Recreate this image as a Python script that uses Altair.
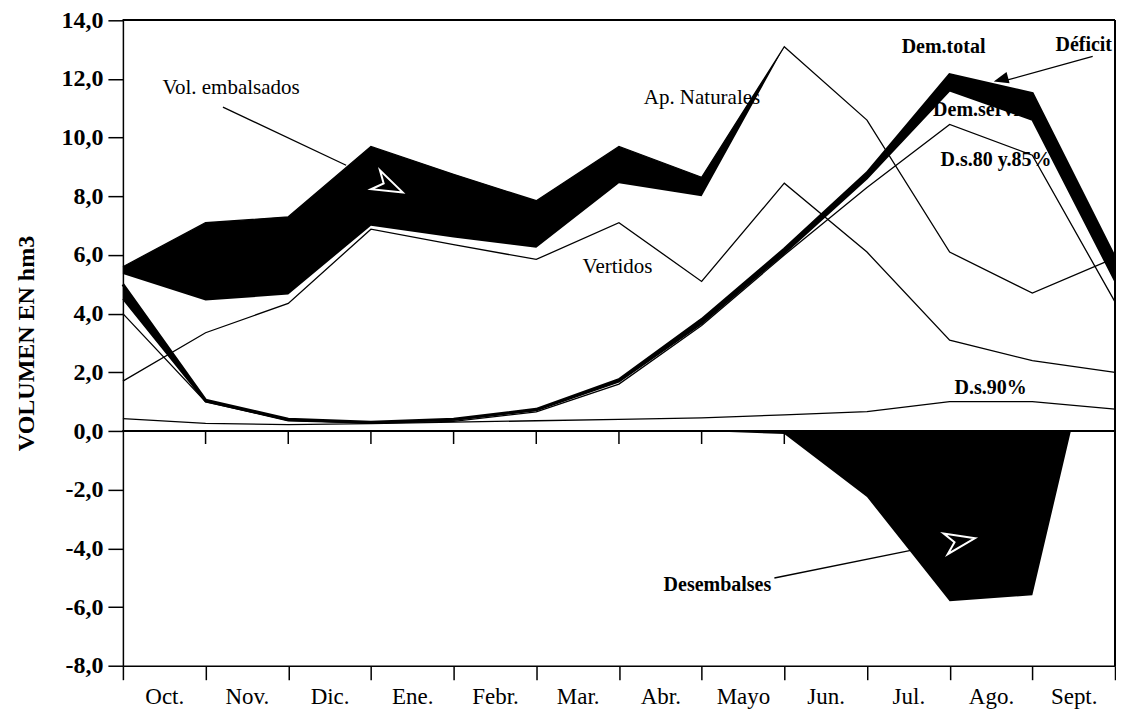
import altair as alt
import pandas as pd

# ---------------- data ----------------
months = ["Oct.", "Nov.", "Dic.", "Ene.", "Febr.", "Mar.", "Abr.", "Mayo",
          "Jun.", "Jul.", "Ago.", "Sept."]
# 13 points: month boundaries (start of Oct ... end of Sept)
punto = list(range(13))
ap_naturales = [5.6, 7.1, 7.3, 9.7, 8.75, 7.85, 9.7, 8.65, 13.1, 10.6, 6.1, 4.7, 5.9]
base_embalse = [5.35, 4.45, 4.65, 7.0, 6.6, 6.25, 8.45, 8.0, 13.1, None, None, None, None]
vertidos = [1.7, 3.35, 4.35, 6.88, 6.35, 5.85, 7.1, 5.1, 8.45, 6.1, 3.1, 2.4, 2.0]
dem_total = [5.0, 1.05, 0.4, 0.3, 0.4, 0.74, 1.75, 3.8, 6.2, 8.8, 12.15, 11.5, 5.9]
dem_servida = [4.5, 1.0, 0.37, 0.28, 0.38, 0.7, 1.68, 3.65, 6.05, 8.6, 11.6, 10.6, 5.1]
ds_80_85 = [4.0, 1.0, 0.35, 0.27, 0.33, 0.65, 1.6, 3.6, 6.0, 8.3, 10.45, 9.4, 4.4]
ds_90 = [0.42, 0.26, 0.22, 0.25, 0.3, 0.35, 0.4, 0.45, 0.55, 0.66, 1.0, 1.0, 0.75]
desembalses = [None, None, None, None, None, None, None, 0.0, -0.1, -2.25, -5.8, -5.6, 6.4]

# annotations
lab_text = ["Vol. embalsados", "Ap. Naturales", "Vertidos", "Dem.total", "Déficit",
            "D.s.80 y.85%", "D.s.90%", "Desembalses"]
lab_x = [0.48, 6.30, 5.56, 9.42, 11.28, 9.89, 10.06, 6.54]
lab_y = [11.68, 11.34, 5.59, 13.08, 13.15, 9.23, 1.46, -5.25]
lab_bold = [False, False, False, True, True, True, True, True]
servida_text = ["Dem.servida"]
servida_x = [9.80]
servida_y = [10.93]

leader_x1 = [1.21, 11.73, 7.88]
leader_y1 = [11.04, 12.77, -5.01]
leader_x2 = [2.70, 10.68, 9.56]
leader_y2 = [9.06, 11.95, -4.05]

white_arrow_x = [3.22, 10.13]
white_arrow_y = [8.35, -3.75]
white_arrow_angle = [25, 349]
black_arrow_x = [10.62]
black_arrow_y = [11.98]
black_arrow_angle = [165]

zero_ticks = list(range(1, 12))

# ---------------- tables ----------------
df = pd.DataFrame({
    "punto": punto, "ap_naturales": ap_naturales, "base_embalse": base_embalse,
    "vertidos": vertidos, "dem_total": dem_total, "dem_servida": dem_servida,
    "ds_80_85": ds_80_85, "ds_90": ds_90, "desembalses": desembalses,
})
labels = pd.DataFrame({"text": lab_text, "x": lab_x, "y": lab_y, "bold": lab_bold})
servida_lab = pd.DataFrame({"text": servida_text, "x": servida_x, "y": servida_y})
leaders = pd.DataFrame({"x1": leader_x1, "y1": leader_y1, "x2": leader_x2, "y2": leader_y2})
warrows = pd.DataFrame({"x": white_arrow_x, "y": white_arrow_y, "a": white_arrow_angle})
barrows = pd.DataFrame({"x": black_arrow_x, "y": black_arrow_y, "a": black_arrow_angle})
zticks = pd.DataFrame({"t": zero_ticks})

FONT = "Liberation Serif"
month_expr = " : ".join(f"datum.value == {i} ? '{m}'" for i, m in enumerate(months)) + " : ''"

x_scale = alt.Scale(domain=[0, 12], nice=False, zero=False)
y_scale = alt.Scale(domain=[-8, 14], nice=False, zero=False)

x_axis = alt.Axis(values=list(range(13)), labelExpr=month_expr, labelOffset=41.4,
                  labelFlush=False, labelOverlap=False, labelBound=False,
                  tickSize=14, tickWidth=1.5, tickColor="black",
                  domainColor="black", domainWidth=1.5,
                  labelFont=FONT, labelFontSize=23, labelColor="black",
                  labelBaseline="top", labelPadding=6, grid=False, title=None)
y_axis = alt.Axis(values=list(range(-8, 15, 2)),
                  labelExpr="replace(replace(format(datum.value, '.1f'), '.', ','), '\u2212', '-')",
                  tickSize=15, tickWidth=1.5, tickColor="black",
                  domainColor="black", domainWidth=1.5,
                  labelFont=FONT, labelFontSize=24, labelFontWeight="bold",
                  labelColor="black", labelPadding=5, grid=False,
                  title="VOLUMEN EN hm3", titleFont=FONT, titleFontSize=24,
                  titleFontWeight="bold", titleColor="black", titleAngle=270,
                  titleBaseline="bottom", titleAlign="center", titleX=-84, titleY=323)


def X(field):
    return alt.X(f"{field}:Q", scale=x_scale, axis=x_axis)


def Y(field):
    return alt.Y(f"{field}:Q", scale=y_scale, axis=y_axis)


base = alt.Chart(df)

band = base.transform_filter("isValid(datum.base_embalse)").mark_area(
    color="black", opacity=1).encode(x=X("punto"), y=Y("ap_naturales"), y2="base_embalse:Q")

des = base.transform_filter("isValid(datum.desembalses)").mark_area(
    color="black", opacity=1).encode(x=X("punto"), y=Y("desembalses"), y2=alt.Y2Datum(0))

cover = base.transform_filter("isValid(datum.desembalses)").transform_calculate(
    pos="max(datum.desembalses, 0)").mark_area(color="white", opacity=1).encode(
    x=X("punto"), y=Y("pos"), y2=alt.Y2Datum(0))

servida_txt = alt.Chart(servida_lab).mark_text(
    align="left", baseline="middle", font=FONT, fontSize=20, fontWeight="bold", color="black"
).encode(x=X("x"), y=Y("y"), text="text:N")

deficit = base.mark_area(color="black", opacity=1).encode(
    x=X("punto"), y=Y("dem_total"), y2="dem_servida:Q")


def line(field, width):
    return base.mark_line(color="black", strokeWidth=width).encode(x=X("punto"), y=Y(field))


lines = [line("ap_naturales", 1.3), line("vertidos", 1.3), line("ds_80_85", 1.3),
         line("ds_90", 1.3), line("dem_servida", 1.6), line("dem_total", 3)]

zero_line = alt.Chart(zticks).mark_rule(color="black", strokeWidth=2).encode(
    x=alt.XDatum(0, scale=x_scale), x2=alt.X2Datum(12), y=alt.YDatum(0, scale=y_scale))
zero_tick = alt.Chart(zticks).mark_rule(color="black", strokeWidth=1.5, y2Offset=13).encode(
    x=X("t"), y=alt.YDatum(0, scale=y_scale), y2=alt.Y2Datum(0))

frame_top = alt.Chart(zticks).mark_rule(color="black", strokeWidth=1.5).encode(
    x=alt.XDatum(0, scale=x_scale), x2=alt.X2Datum(12), y=alt.YDatum(14, scale=y_scale))
frame_right = alt.Chart(zticks).mark_rule(color="black", strokeWidth=1.5).encode(
    x=alt.XDatum(12, scale=x_scale), y=alt.YDatum(-8, scale=y_scale), y2=alt.Y2Datum(14))

lab_reg = alt.Chart(labels).transform_filter("!datum.bold").mark_text(
    align="left", baseline="middle", font=FONT, fontSize=21, color="black"
).encode(x=X("x"), y=Y("y"), text="text:N")
lab_bold_l = alt.Chart(labels).transform_filter("datum.bold").mark_text(
    align="left", baseline="middle", font=FONT, fontSize=20, fontWeight="bold", color="black"
).encode(x=X("x"), y=Y("y"), text="text:N")

leader = alt.Chart(leaders).mark_rule(color="black", strokeWidth=1.3).encode(
    x=X("x1"), y=Y("y1"), x2="x2:Q", y2="y2:Q")

warrow = alt.Chart(warrows).mark_point(
    shape="M1,0 L-1,-0.7 L-0.4,0 L-1,0.7 Z", filled=False, stroke="white",
    strokeWidth=2, size=900, opacity=1).encode(
    x=X("x"), y=Y("y"), angle=alt.Angle("a:Q", scale=None))
barrow = alt.Chart(barrows).mark_point(
    shape="M1,0 L-1,-0.8 L-1,0.8 Z", filled=True, color="black", size=220, opacity=1).encode(
    x=X("x"), y=Y("y"), angle=alt.Angle("a:Q", scale=None))

chart = alt.layer(
    band, des, cover, servida_txt, deficit, *lines, zero_line, zero_tick,
    frame_top, frame_right, lab_reg, lab_bold_l, leader, warrow, barrow
).properties(
    width=993, height=646,
    autosize=alt.AutoSizeParams(type="none"),
    padding={"left": 115, "top": 12, "right": 1, "bottom": 43},
    background="white",
).configure_view(stroke=None)

chart.save("out.html", embed_options={"renderer": "svg", "actions": False})
